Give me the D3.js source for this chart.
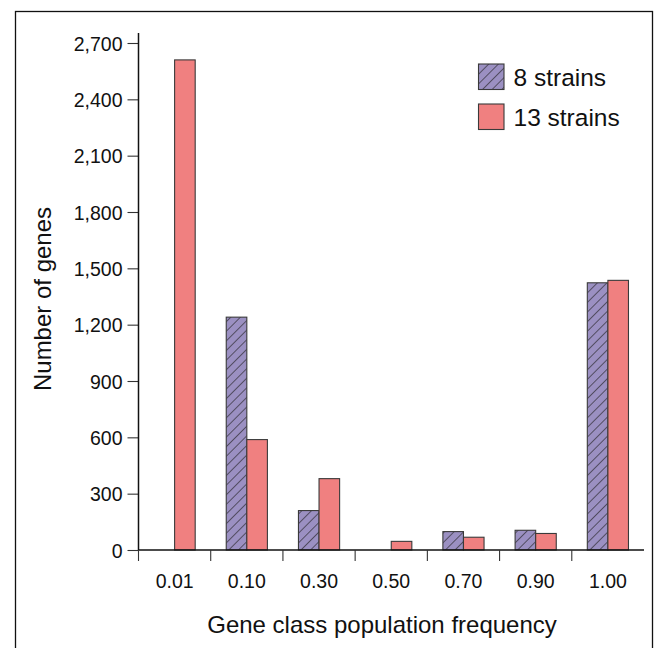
<!DOCTYPE html>
<html>
<head>
<meta charset="utf-8">
<script src="https://cdn.jsdelivr.net/npm/d3@7/dist/d3.min.js"></script>
<style>
  html, body { margin: 0; padding: 0; background: #fff; }
  svg { display: block; }
  text { font-family: "Liberation Sans", Arial, Helvetica, sans-serif; fill: #111; }
</style>
</head>
<body>
<svg id="chart" width="659" height="648"></svg>
<script>
// Gene counts per population-frequency class
const categories = ["0.01", "0.10", "0.30", "0.50", "0.70", "0.90", "1.00"];
const seriesNames = ["8 strains", "13 strains"];
const strains8 = [0, 1240, 210, 0, 98, 105, 1423];
const strains13 = [2610, 588, 380, 46, 68, 88, 1436];
const yTicks = [0, 300, 600, 900, 1200, 1500, 1800, 2100, 2400, 2700];

const colors = { "8 strains": "#9b90c2", "13 strains": "#f08080" };

const svg = d3.select("#chart");

// outer frame
svg.append("rect")
  .attr("x", 15.5).attr("y", 11.5)
  .attr("width", 637).attr("height", 660)
  .attr("fill", "none").attr("stroke", "#111").attr("stroke-width", 1.3);

// hatch for the 8-strain series
const defs = svg.append("defs");
const hs = 6.8;
const pat = defs.append("pattern")
  .attr("id", "hatch")
  .attr("patternUnits", "userSpaceOnUse")
  .attr("width", hs).attr("height", hs)
  .attr("patternTransform", "rotate(45)");
pat.append("rect").attr("width", hs).attr("height", hs).attr("fill", colors["8 strains"]);
pat.append("line")
  .attr("x1", 0).attr("y1", 0).attr("x2", 0).attr("y2", hs)
  .attr("stroke", "#222").attr("stroke-width", 1.2);

const fills = { "8 strains": "url(#hatch)", "13 strains": colors["13 strains"] };

const x = d3.scaleBand().domain(categories).range([138.5, 644]).padding(0);
const y = d3.scaleLinear().domain([0, 2700]).range([550, 43]);

const bw = x.bandwidth();
const x1 = d3.scaleBand().domain(seriesNames)
  .range([bw * 0.215, bw * 0.785]).padding(0);

const rows = categories.map((c, i) => ({
  cat: c,
  values: [
    { key: "8 strains", value: strains8[i] },
    { key: "13 strains", value: strains13[i] }
  ]
}));

// bars
const groups = svg.append("g").selectAll("g")
  .data(rows).join("g")
  .attr("transform", d => `translate(${x(d.cat)},0)`);

groups.selectAll("rect")
  .data(d => d.values).join("rect")
  .attr("x", d => x1(d.key))
  .attr("y", d => y(d.value))
  .attr("width", x1.bandwidth())
  .attr("height", d => y(0) - y(d.value))
  .attr("fill", d => fills[d.key])
  .attr("stroke", "#3a3a3a")
  .attr("stroke-width", 1.1);

// y axis
const yAxis = svg.append("g")
  .attr("transform", `translate(${x.range()[0]},0)`)
  .call(d3.axisLeft(y).tickValues(yTicks).tickFormat(d3.format(",")).tickSize(11).tickPadding(5));
yAxis.select(".domain").remove();
yAxis.append("line")
  .attr("x1", 0).attr("x2", 0)
  .attr("y1", y(0)).attr("y2", y.range()[1] - 10)
  .attr("stroke", "#111").attr("stroke-width", 1.5);
yAxis.selectAll(".tick line").attr("stroke", "#333").attr("stroke-width", 1.1);
yAxis.selectAll(".tick text")
  .style("font-size", "19.5px")
  .style("font-family", "'Liberation Sans', Arial, Helvetica, sans-serif")
  .attr("fill", "#111")
  .attr("dy", "0.36em");

// x axis: boundary ticks between classes, labels centred in each class
const xAxis = svg.append("g").attr("transform", `translate(0,${y(0)})`);
xAxis.append("line")
  .attr("x1", x.range()[0]).attr("x2", x.range()[1])
  .attr("y1", 0).attr("y2", 0)
  .attr("stroke", "#111").attr("stroke-width", 1.6);
xAxis.selectAll("line.bt")
  .data(categories).join("line")
  .attr("class", "bt")
  .attr("x1", d => x(d)).attr("x2", d => x(d))
  .attr("y1", 0).attr("y2", 11)
  .attr("stroke", "#333").attr("stroke-width", 1.1);
xAxis.selectAll("text")
  .data(categories).join("text")
  .attr("x", d => x(d) + bw / 2)
  .attr("y", 38)
  .attr("text-anchor", "middle")
  .style("font-size", "19.5px")
  .text(d => d);

// axis titles
svg.append("text")
  .attr("x", 382).attr("y", 633)
  .attr("text-anchor", "middle")
  .style("font-size", "24px")
  .text("Gene class population frequency");

svg.append("text")
  .attr("transform", "translate(51,299) rotate(-90)")
  .attr("text-anchor", "middle")
  .style("font-size", "24px")
  .text("Number of genes");

// legend
const legend = svg.append("g").attr("transform", "translate(478.5,64)");
const li = legend.selectAll("g").data(seriesNames).join("g")
  .attr("transform", (d, i) => `translate(0,${i * 40})`);
li.append("rect")
  .attr("width", 25.5).attr("height", 25.5)
  .attr("fill", d => fills[d])
  .attr("stroke", "#3a3a3a").attr("stroke-width", 1.1);
li.append("text")
  .attr("x", 35).attr("y", 21.5)
  .style("font-size", "24.5px")
  .text(d => d);
</script>
</body>
</html>
